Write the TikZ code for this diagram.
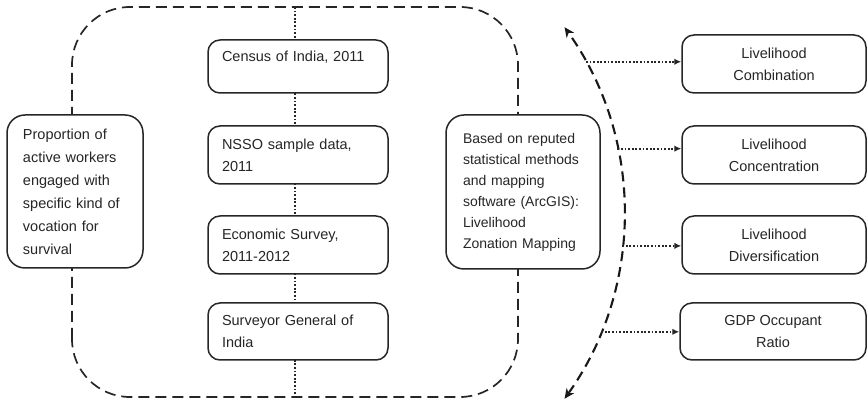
\documentclass[tikz,border=0pt]{standalone}
\usepackage{fontspec}
\setmainfont{Liberation Sans}
\usetikzlibrary{arrows.meta,calc}
\begin{document}
\begin{tikzpicture}[x=1pt,y=1pt,
  box/.style={draw=black!85, line width=1.5pt, rounded corners=12pt, fill=white,
    text=black!85, font=\fontsize{14.5}{22}\selectfont},
  srcbox/.style={box, align=left, text width=152pt, inner xsep=14pt, minimum width=180pt},
  outbox/.style={box, align=center, minimum width=184pt},
  bigbox/.style={box, align=left, rounded corners=18pt},
  dashedframe/.style={draw=black!85, line width=1.7pt, dash pattern=on 11pt off 6pt},
  dotline/.style={draw=black!85, line width=1.9pt, dash pattern=on 1.8pt off 1.8pt},
  dotarrow/.style={draw=black!85, line width=1.8pt, dash pattern=on 1.8pt off 1.8pt, -{Latex[length=7pt,width=6.5pt]}},
  curvarrow/.style={draw=black!90, line width=2.1pt, dash pattern=on 10pt off 6pt, {Stealth[length=10pt,width=9pt,inset=3pt]}-{Stealth[length=10pt,width=9pt,inset=3pt]}}
]
\useasboundingbox (0,0) rectangle (868,403);

% dashed frame and central dotted spine
\draw[dashedframe, rounded corners=58pt] (72,6) rectangle (518,396);
\coordinate (spTop) at (295,396);
\coordinate (spBot) at (295,6);
\draw[dotline] (spTop) -- (spBot);

% left box
\node[bigbox, font=\fontsize{14.5}{23}\selectfont, text width=104pt, inner xsep=16pt, minimum width=136pt, minimum height=153pt] (L) at (75,211.5)
  {Proportion of\\active workers\\engaged with\\specific kind of\\vocation for\\survival};

% source boxes
\node[srcbox, minimum height=53pt] (c1) at (298,336.5) {Census of India, 2011\\[-2pt]~};
\node[srcbox, minimum height=58pt] (c2) at (298,248) {NSSO sample data,\\2011};
\node[srcbox, minimum height=58pt] (c3) at (298,158) {Economic Survey,\\2011-2012};
\node[srcbox, minimum height=57pt] (c4) at (298,71.5) {Surveyor General of\\India};

% right-centre box
\node[bigbox, font=\fontsize{14}{21}\selectfont, text width=120pt, inner xsep=17pt, minimum width=154pt, minimum height=154pt] (R) at (523,211)
  {Based on reputed\\statistical methods\\and mapping\\software (ArcGIS):\\Livelihood\\Zonation Mapping};

% output boxes
\node[outbox, minimum height=58pt] (r1) at (774,339) {Livelihood\\Combination};
\node[outbox, minimum height=58pt] (r2) at (774,248) {Livelihood\\Concentration};
\node[outbox, minimum height=58pt] (r3) at (774,158) {Livelihood\\Diversification};
\node[outbox, minimum height=57pt, minimum width=186pt] (r4) at (773,71.5) {GDP Occupant\\Ratio};

% curved double arrow
\coordinate (O) at (304,190);
\coordinate (aS) at ($(O)+(-35.5:320)$);
\draw[curvarrow] (aS) arc[start angle=-35.5, end angle=35.5, radius=320];

% dotted arrows
\coordinate (p1) at ($(O)+(28.2:320)$);
\coordinate (p2) at ($(O)+(11.6:320)$);
\coordinate (p3) at ($(O)+(-5.9:320)$);
\coordinate (p4) at ($(O)+(-21.8:320)$);
\draw[dotarrow] (p1) -- (p1 -| r1.west);
\draw[dotarrow] (p2) -- (p2 -| r2.west);
\draw[dotarrow] (p3) -- (p3 -| r3.west);
\draw[dotarrow] (p4) -- (p4 -| r4.west);
\end{tikzpicture}
\end{document}
